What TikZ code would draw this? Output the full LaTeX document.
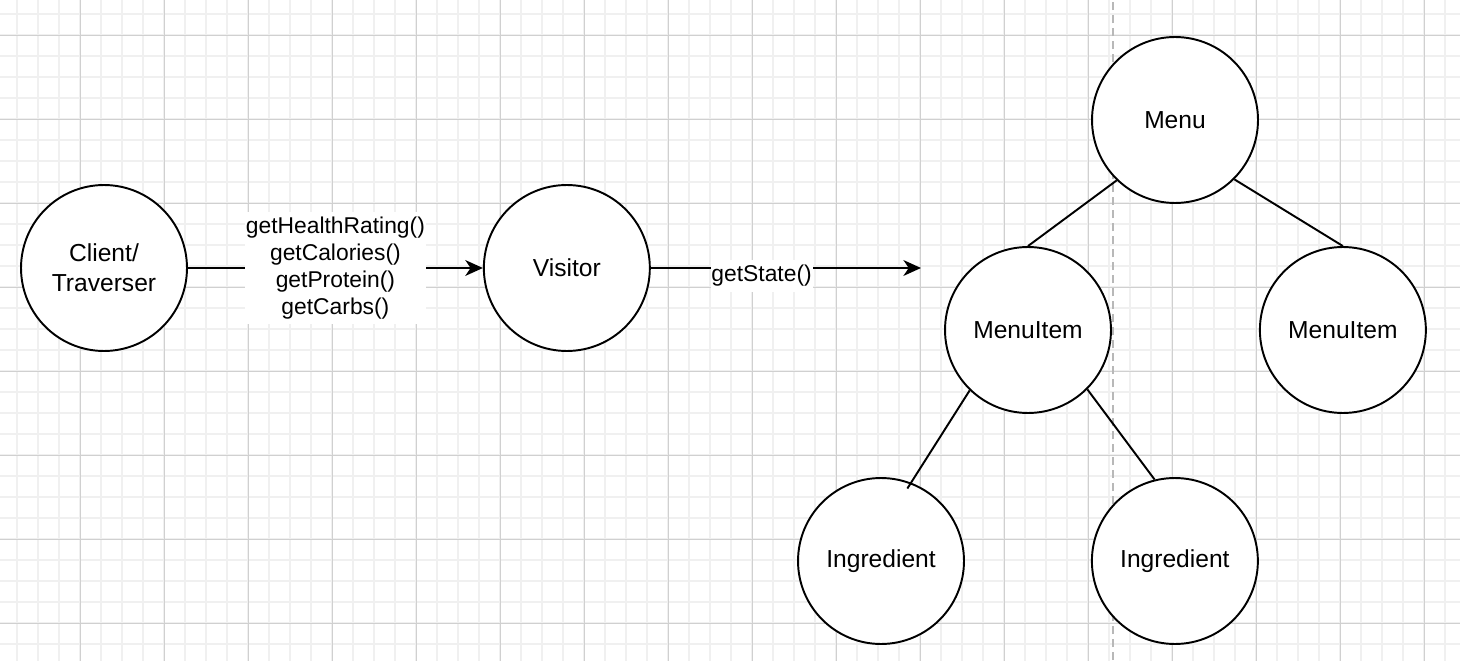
\documentclass[tikz,border=0pt]{standalone}
\usepackage{fontspec}
\setmainfont{Liberation Sans}
\usetikzlibrary{arrows.meta,positioning}
\definecolor{minorgrid}{HTML}{F0F0F0}
\definecolor{majorgrid}{HTML}{D0D0D0}
\definecolor{divider}{HTML}{B8B8B8}

\begin{document}
\begin{tikzpicture}[x=0.02cm,y=0.02cm,>={Stealth[length=10pt,width=9pt,inset=3pt]},
  line width=1.1pt,
  main node/.style={circle,draw,fill=white,minimum size=3.32cm,inner sep=0pt,align=center,font=\fontsize{14}{17}\selectfont},
  call label/.style={fill=white,align=center,inner xsep=0.5pt,inner ysep=3pt,font=\fontsize{13}{15.3}\selectfont}]

  % paper and grid
  \useasboundingbox (0,0) rectangle (1460,660);
  \begin{scope}
    \clip (0,0) rectangle (1460,660);
    \fill[white] (0,0) rectangle (1460,660);
    \begin{scope}[shift={(-4,37)}]
      \draw[minorgrid,line width=0.04cm,step=0.42cm] (-21,-63) grid (1480,640);
    \end{scope}
    \begin{scope}[shift={(-3.5,36.5)}]
      \draw[majorgrid,line width=0.02cm,step=1.68cm] (-21,-63) grid (1480,640);
    \end{scope}
    \draw[divider,line width=1.1pt,dash pattern=on 0.16cm off 0.1cm] (1113,0) -- (1113,660);
  \end{scope}

  \node[main node] (Client) at (104,392) {Client/\\Traverser};
  \node[main node] (Visitor) [right=5.9cm of Client] {Visitor};
  \coordinate (StateEnd) at (921,392);

  \node[main node] (Menu) at (1175,540) {Menu};
  \node[main node] (MenuItemL) at (1028,330) {MenuItem};
  \node[main node] (MenuItemR) [right=2.94cm of MenuItemL] {MenuItem};
  \node[main node] (IngredientL) at (881,99) {Ingredient};
  \node[main node] (IngredientR) [right=2.52cm of IngredientL] {Ingredient};

  \draw[->] (Client) -- node[call label] {getHealthRating()\\getCalories()\\getProtein()\\getCarbs()} (Visitor);
  \draw[->] (Visitor) -- node[call label,pos=0.41,yshift=-0.16cm] {getState()} (StateEnd);

  \path[draw]
    (Menu.226) edge (MenuItemL.north)
    (Menu.315) edge (MenuItemR.north)
    (MenuItemL.226) edge[shorten >=-0.14cm] (IngredientL.69)
    (MenuItemL.315) edge (IngredientR.104)
    ;

\end{tikzpicture}
\end{document}
